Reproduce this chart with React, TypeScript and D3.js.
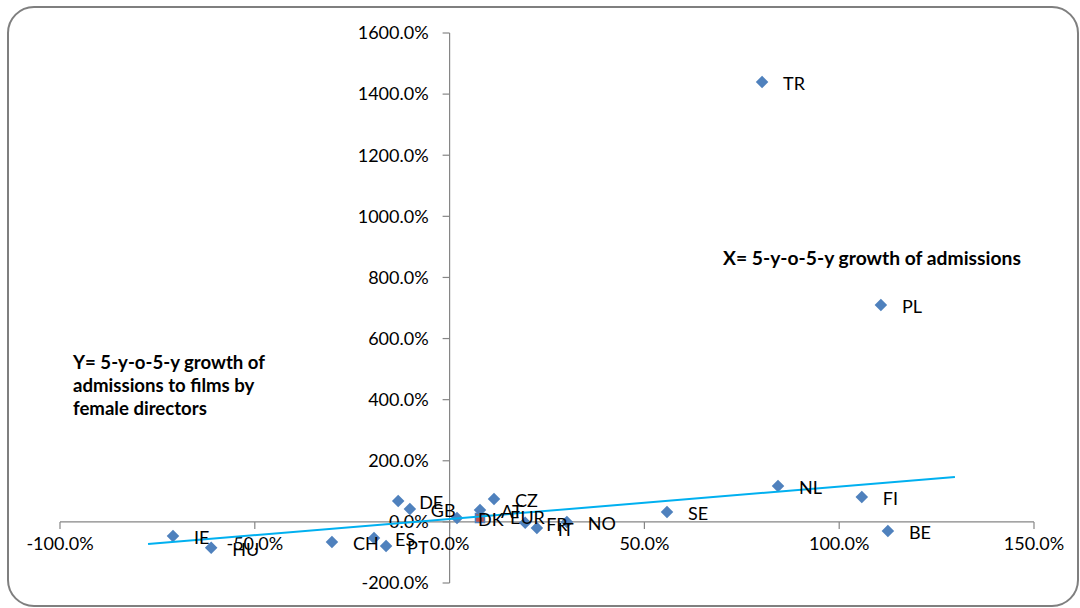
import React from "react";
import * as d3 from "d3";

const countries = ["TR", "PL", "NL", "FI", "BE", "SE", "NO", "IT", "FR", "CZ", "AT", "DK", "GB", "DE", "PT", "ES", "CH", "HU", "IE"];
const growthAdmissions = [80.2, 110.7, 84.3, 105.8, 112.5, 55.8, 30.1, 22.4, 19.4, 11.4, 7.8, 1.9, -10.2, -13.2, -16.3, -19.4, -30.2, -61.2, -71.0];
const growthFemale = [1440, 710, 117.5, 81.5, -29.8, 32.4, 0, -20, -3, 75, 39, 12.7, 42, 68, -79, -53, -66, -85, -46];

const avgLabel = ["EUR"];
const avgX = [7.8];
const avgY = [12.7];

const trendX = [-77.4, 129.7];
const trendY = [-72.4, 146.9];

const xTicks = [-100, -50, 0, 50, 100, 150];
const yTicks = [-200, 0, 200, 400, 600, 800, 1000, 1200, 1400, 1600];

const xTitle = "X= 5-y-o-5-y growth of admissions";
const yTitleLines = ["Y= 5-y-o-5-y growth of", "admissions to films by", "female directors"];

const W = 1080;
const H = 608;
const FONT = "Lato, 'Open Sans', sans-serif";
const AXIS = "#868686";
const BLUE = "#4F81BD";
const RED = "#C0504D";
const TREND = "#00B0F0";

export default function App() {
  const x = d3.scaleLinear().domain([-100, 150]).range([60, 1034]);
  const y = d3.scaleLinear().domain([-200, 1600]).range([583, 33]);
  const x0 = x(0);
  const y0 = y(0);
  const fmt = (v: number) => v.toFixed(1) + "%";
  const diamond = d3.symbol().type(d3.symbolDiamond2).size(100)();
  const line = d3
    .line<number>()
    .x((_, i) => x(trendX[i]))
    .y((d) => y(d));

  return (
    <svg
      width={W}
      height={H}
      style={{ position: "absolute", left: 0, top: 0, display: "block", background: "#fff" }}
    >
      <rect x={8} y={7} width={1070} height={599} rx={26} ry={26} fill="#fff" stroke="#7f7f7f" strokeWidth={2} />

      {/* axes */}
      <line x1={x(-100)} x2={x(150)} y1={y0} y2={y0} stroke={AXIS} strokeWidth={1.2} />
      <line x1={x0} x2={x0} y1={y(-200)} y2={y(1600)} stroke={AXIS} strokeWidth={1.2} />
      {xTicks.map((t) => (
        <g key={"xt" + t}>
          <line x1={x(t)} x2={x(t)} y1={y0} y2={y0 + 7} stroke={AXIS} strokeWidth={1.2} />
          <text x={x(t)} y={y0 + 28} textAnchor="middle" fontFamily={FONT} fontSize={18} fill="#000">
            {fmt(t)}
          </text>
        </g>
      ))}
      {yTicks.map((t) => (
        <g key={"yt" + t}>
          <line x1={x0 - 7} x2={x0} y1={y(t)} y2={y(t)} stroke={AXIS} strokeWidth={1.2} />
          <text x={x0 - 21} y={y(t)} dy="0.35em" textAnchor="end" fontFamily={FONT} fontSize={18} fill="#000">
            {fmt(t)}
          </text>
        </g>
      ))}

      {/* average marker */}
      {avgX.map((v, i) => (
        <rect key={"avg" + i} x={x(v) - 4.5} y={y(avgY[i]) - 4.5} width={9} height={9} fill={RED} stroke={BLUE} strokeWidth={1.5} />
      ))}

      {/* country markers */}
      {countries.map((c, i) => (
        <path key={"m" + c} d={diamond!} transform={`translate(${x(growthAdmissions[i])},${y(growthFemale[i])})`} fill={BLUE} />
      ))}

      {/* trendline */}
      <path d={line(trendY)!} fill="none" stroke={TREND} strokeWidth={2} />

      {/* labels */}
      {countries.map((c, i) => (
        <text
          key={"l" + c}
          x={x(growthAdmissions[i]) + 21}
          y={y(growthFemale[i]) + 2}
          dy="0.35em"
          fontFamily={FONT}
          fontSize={18}
          fill="#000"
        >
          {c}
        </text>
      ))}
      {avgLabel.map((c, i) => (
        <text key={"al" + c} x={x(avgX[i]) + 30} y={y(avgY[i])} dy="0.35em" fontFamily={FONT} fontSize={18} fill="#000">
          {c}
        </text>
      ))}

      {/* annotations */}
      <text x={723} y={258} dy="0.35em" fontFamily={FONT} fontSize={19.3} fontWeight="bold" fill="#000">
        {xTitle}
      </text>
      {yTitleLines.map((l, i) => (
        <text key={"yl" + i} x={73} y={369 + i * 23} fontFamily={FONT} fontSize={18.6} fontWeight="bold" fill="#000">
          {l}
        </text>
      ))}
    </svg>
  );
}
